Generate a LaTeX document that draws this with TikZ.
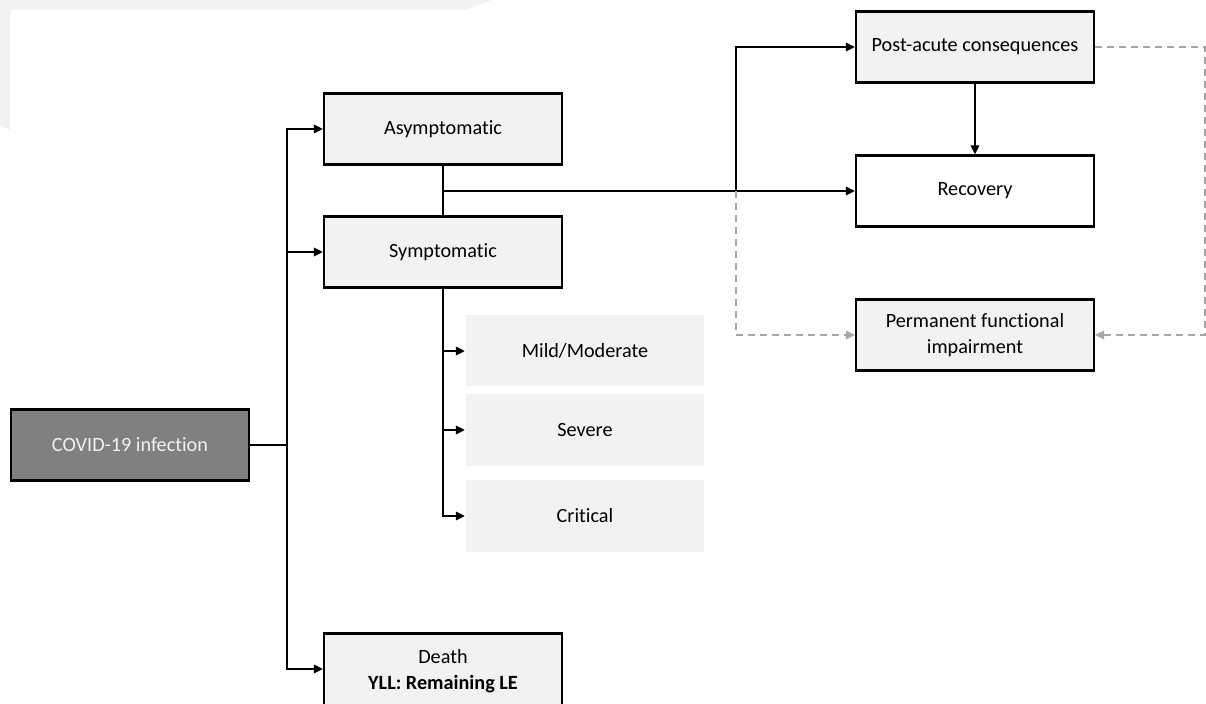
\documentclass[tikz,border=0pt]{standalone}
\usepackage{fontspec}
\setmainfont{Carlito}[Ligatures=NoCommon]
\usetikzlibrary{arrows.meta}

\begin{document}
\begin{tikzpicture}[
    x=0.2mm, y=-0.2mm,
    font=\fontsize{11.5}{14.5}\selectfont,
    line width=0.4mm,
    box/.style={draw, line width=0.45mm, align=center, minimum width=47.6mm, minimum height=14.2mm, inner sep=2pt, fill=gray!10},
    sev/.style={box, draw=none},
    greyline/.style={gray!70, line width=0.3mm, dash pattern=on 1.4mm off 1mm},
    >={Triangle[length=1.8mm, width=1.7mm]}]

    \useasboundingbox (0,0) rectangle (1206,704);
    % background band
    \fill[gray!10] (0,0) -- (492,0) -- (465,10) -- (10,10) -- (10,130) -- (0,126) -- cycle;

    \node[box, fill=gray, text=gray!10] (covid) at (130,445) {COVID-19 infection};
    \node[box] (asym) at (443,129) {Asymptomatic};
    \node[box] (sym) at (443,252) {Symptomatic};
    \node[sev] (mild) at (585,351) {Mild/Moderate};
    \node[sev] (severe) at (585,430) {Severe};
    \node[sev] (crit) at (585,516) {Critical};
    \node[box, minimum height=15mm] (death) at (443,671) {Death\\\textbf{YLL: Remaining LE}};
    \node[box] (post) at (975,47) {Post-acute consequences};
    \node[box, fill=white] (recov) at (975,191) {Recovery};
    \node[box] (perm) at (975,335) {Permanent functional\\impairment};

    \coordinate (stem) at (287,445);
    \coordinate (mid) at (443,191);
    \coordinate (knee) at (736,191);
    \coordinate (rim) at (1205,47);

    \draw (covid.east) -- (stem);
    \foreach \n in {asym,sym}
        \draw[->] (stem) |- (\n.west);
    \draw[->] (stem) |- (death.west |- 0,669);
    \draw (asym) -- (sym);
    \draw[->] (mid) -- (recov.west);
    \draw[->] (knee) |- (post.west);
    \draw[->] (post) -- (recov);
    \foreach \n in {mild,severe,crit}
        \draw[->] (sym.south) |- (\n.west);

    \draw[greyline, ->] (knee) |- (perm.west);
    \draw[greyline, ->] (post.east) -- (rim) |- (perm.east);
\end{tikzpicture}
\end{document}
